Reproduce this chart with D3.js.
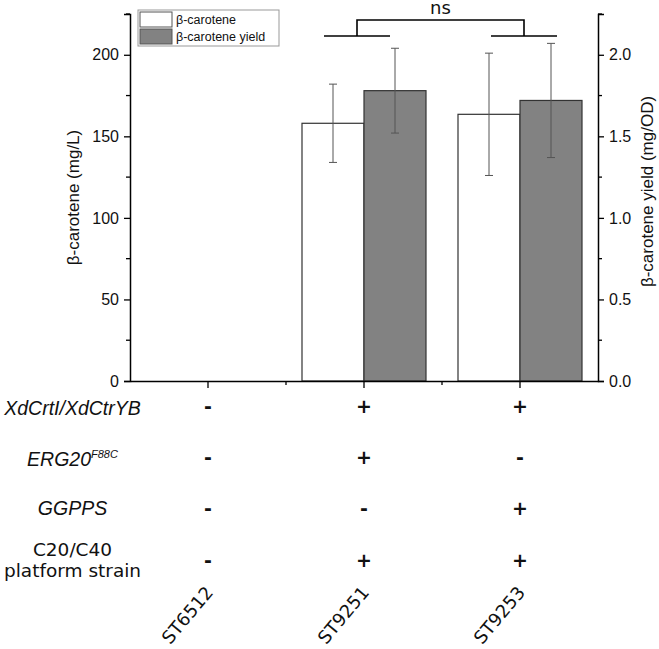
<!DOCTYPE html>
<html>
<head>
<meta charset="utf-8">
<script src="https://cdn.jsdelivr.net/npm/d3@7"></script>
<style>
  body { margin: 0; background: #fff; }
  svg text { fill: #111; }
</style>
</head>
<body>
<svg id="chart" width="659" height="649"></svg>
<script>
/* global d3 */

// data
var strains = ["ST6512", "ST9251", "ST9253"];
var titer = [0, 158, 163.5];          // mg/L
var titerErr = [0, 24, 37.5];
var yieldVals = [0, 1.78, 1.72];      // mg/OD
var yieldErr = [0, 0.26, 0.35];
var rowLabels = ["XdCrtI/XdCtrYB", "ERG20", "GGPPS", "C20/C40", "platform strain"];
var rowSigns = [
  ["-", "+", "+"],
  ["-", "+", "-"],
  ["-", "-", "+"],
  ["-", "+", "+"]
];
var leftTicks = [0, 50, 100, 150, 200];
var rightTicks = [0, 0.5, 1.0, 1.5, 2.0];

var svg = d3.select("#chart"),
  margin = { top: 14, left: 130, right: 61, bottom: 268 },
  width = 659,
  height = 649,
  fontAxis = "'Liberation Sans', Arial, sans-serif",
  fontVerd = "'DejaVu Sans', Verdana, sans-serif";

var x = d3.scaleBand()
  .domain(strains)
  .range([margin.left, width - margin.right]);

var y = d3.scaleLinear().domain([0, 225]).range([height - margin.bottom, margin.top]);
var y2 = d3.scaleLinear().domain([0, 2.25]).range([height - margin.bottom, margin.top]);

var barW = 62;
var sub = d3.scaleBand().domain(["titer", "yield"]).range([0, barW * 2]);

function center(s) { return x(s) + x.bandwidth() / 2; }

var rows = strains.map(function (s, i) {
  return { s: s, titer: titer[i], tErr: titerErr[i], yld: yieldVals[i], yErr: yieldErr[i] };
});

// bars
var g = svg.append("g");
rows.forEach(function (d) {
  if (d.titer > 0) {
    g.append("rect")
      .attr("x", center(d.s) - barW + sub("titer"))
      .attr("y", y(d.titer))
      .attr("width", sub.bandwidth())
      .attr("height", y(0) - y(d.titer))
      .attr("fill", "#fff")
      .attr("stroke", "#333")
      .attr("stroke-width", 1.2);
  }
  if (d.yld > 0) {
    g.append("rect")
      .attr("x", center(d.s) - barW + sub("yield"))
      .attr("y", y2(d.yld))
      .attr("width", sub.bandwidth())
      .attr("height", y2(0) - y2(d.yld))
      .attr("fill", "#828282")
      .attr("stroke", "#333")
      .attr("stroke-width", 1.2);
  }
});

// error bars
function errBar(cx, top, bot) {
  var e = g.append("g").attr("stroke", "#555").attr("stroke-width", 1);
  e.append("line").attr("x1", cx).attr("x2", cx).attr("y1", top).attr("y2", bot);
  e.append("line").attr("x1", cx - 4).attr("x2", cx + 4).attr("y1", top).attr("y2", top);
  e.append("line").attr("x1", cx - 4).attr("x2", cx + 4).attr("y1", bot).attr("y2", bot);
}
rows.forEach(function (d) {
  var c = center(d.s) - barW;
  if (d.titer > 0) errBar(c + sub("titer") + sub.bandwidth() / 2, y(d.titer + d.tErr), y(d.titer - d.tErr));
  if (d.yld > 0) errBar(c + sub("yield") + sub.bandwidth() / 2, y2(d.yld + d.yErr), y2(d.yld - d.yErr));
});

// axes
var leftAxis = svg.append("g")
  .attr("transform", "translate(" + margin.left + ",0)")
  .call(d3.axisLeft(y).tickValues(leftTicks).tickSize(6).tickPadding(5).tickFormat(d3.format("d")));
leftAxis.selectAll(".minor")
  .data([25, 75, 125, 175, 225]).enter().append("line")
  .attr("class", "minor").attr("x2", -4).attr("y1", y).attr("y2", y).attr("stroke", "#000");

var rightAxis = svg.append("g")
  .attr("transform", "translate(" + (width - margin.right) + ",0)")
  .call(d3.axisRight(y2).tickValues(rightTicks).tickSize(6).tickPadding(5).tickFormat(d3.format(".1f")));
rightAxis.selectAll(".minor")
  .data([0.25, 0.75, 1.25, 1.75, 2.25]).enter().append("line")
  .attr("class", "minor").attr("x2", 4).attr("y1", y2).attr("y2", y2).attr("stroke", "#000");

var bottomAxis = svg.append("g")
  .attr("transform", "translate(0," + y(0) + ")")
  .call(d3.axisBottom(x).tickSize(7).tickSizeOuter(0).tickFormat(""));
bottomAxis.selectAll(".minor")
  .data(strains.slice(1)).enter().append("line")
  .attr("class", "minor").attr("x1", x).attr("x2", x).attr("y2", 4).attr("stroke", "#000");

[leftAxis, rightAxis, bottomAxis].forEach(function (a) {
  a.select(".domain").attr("stroke", "#000").attr("stroke-width", 1.5);
  a.selectAll("line").attr("stroke", "#000").attr("stroke-width", 1.3);
  a.selectAll("text").style("font-family", fontAxis).style("font-size", "16px").attr("fill", "#222");
});

// axis titles
svg.append("text")
  .attr("transform", "translate(79," + ((y(0) + y(225)) / 2) + ") rotate(-90)")
  .attr("text-anchor", "middle")
  .style("font-family", fontAxis).style("font-size", "17px")
  .text("β-carotene (mg/L)");
svg.append("text")
  .attr("transform", "translate(653," + ((y(0) + y(225)) / 2 - 6) + ") rotate(-90)")
  .attr("text-anchor", "middle")
  .style("font-family", fontAxis).style("font-size", "17px")
  .text("β-carotene yield (mg/OD)");

// legend
var lg = svg.append("g").attr("transform", "translate(138,10)");
lg.append("rect").attr("width", 141).attr("height", 36)
  .attr("fill", "#fff").attr("stroke", "#999").attr("stroke-width", 1);
[["#fff", "β-carotene"], ["#828282", "β-carotene yield"]].forEach(function (it, i) {
  lg.append("rect").attr("x", 2).attr("y", 2 + i * 17).attr("width", 32).attr("height", 15)
    .attr("fill", it[0]).attr("stroke", "#555").attr("stroke-width", 1);
  lg.append("text").attr("x", 38).attr("y", 14 + i * 17)
    .style("font-family", fontAxis).style("font-size", "12.5px")
    .text(it[1]);
});

// significance bracket
var bL = center("ST9251") - 7, bR = center("ST9253") + 4, arm = 33;
var br = svg.append("g").attr("stroke", "#000").attr("stroke-width", 1.6).attr("fill", "none");
br.append("path").attr("d", "M" + bL + ",36V20H" + bR + "V36");
br.append("line").attr("x1", bL - arm).attr("x2", bL + arm).attr("y1", 36).attr("y2", 36);
br.append("line").attr("x1", bR - arm).attr("x2", bR + arm).attr("y1", 36).attr("y2", 36);
svg.append("text")
  .attr("x", (bL + bR) / 2).attr("y", 14)
  .attr("text-anchor", "middle")
  .style("font-family", fontVerd).style("font-size", "18px")
  .text("ns");

// genotype table
var rowY = [407, 458, 509, 561];
var lblX = 72.5;
svg.append("text").attr("x", lblX).attr("y", rowY[0] + 8).attr("text-anchor", "middle")
  .style("font-family", fontAxis).style("font-size", "19.5px").style("font-style", "italic")
  .text(rowLabels[0]);
var erg = svg.append("text").attr("x", lblX).attr("y", rowY[1] + 8).attr("text-anchor", "middle")
  .style("font-family", fontAxis).style("font-size", "19.5px").style("font-style", "italic");
erg.append("tspan").text(rowLabels[1]);
erg.append("tspan").attr("dy", -8).style("font-size", "11px").text("F88C");
svg.append("text").attr("x", lblX).attr("y", rowY[2] + 6).attr("text-anchor", "middle")
  .style("font-family", fontAxis).style("font-size", "19.5px").style("font-style", "italic")
  .text(rowLabels[2]);
svg.append("text").attr("x", lblX).attr("y", rowY[3] - 5).attr("text-anchor", "middle")
  .style("font-family", fontVerd).style("font-size", "18.5px")
  .text(rowLabels[3]);
svg.append("text").attr("x", lblX).attr("y", rowY[3] + 16).attr("text-anchor", "middle")
  .style("font-family", fontVerd).style("font-size", "18.5px")
  .text(rowLabels[4]);

rowSigns.forEach(function (signs, r) {
  signs.forEach(function (sg, i) {
    svg.append("text")
      .attr("x", center(strains[i])).attr("y", rowY[r] + 6)
      .attr("text-anchor", "middle")
      .style("font-family", fontVerd).style("font-size", "19px").style("font-weight", "bold")
      .text(sg);
  });
});

// strain names
strains.forEach(function (s) {
  svg.append("text")
    .attr("transform", "translate(" + (center(s) + 6) + ",593) rotate(-50)")
    .attr("text-anchor", "end")
    .style("font-family", fontVerd).style("font-size", "18px")
    .text(s);
});
</script>
</body>
</html>
